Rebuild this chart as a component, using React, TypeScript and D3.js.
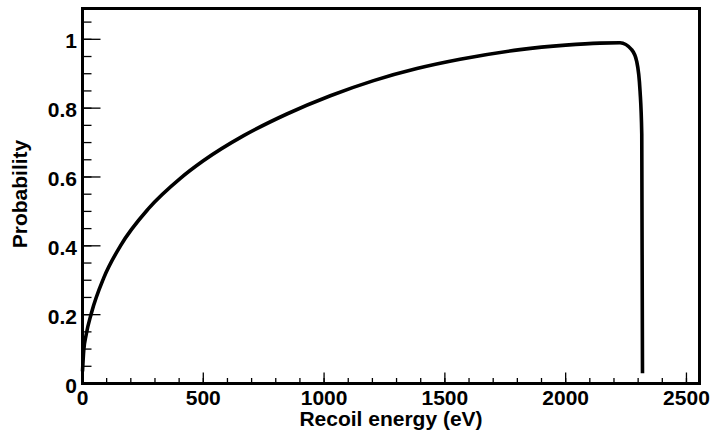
import React from "react";
import * as d3 from "d3";

const energy = [0, 5, 15, 37, 88, 157, 273, 405, 500, 667, 846, 1026, 1205, 1384, 1563, 1811, 2000, 2142, 2225, 2273, 2294, 2308, 2315, 2318];
const probability = [0.035, 0.095, 0.141, 0.205, 0.307, 0.4, 0.508, 0.596, 0.647, 0.72, 0.783, 0.836, 0.88, 0.915, 0.942, 0.97, 0.983, 0.989, 0.99, 0.97, 0.936, 0.849, 0.725, 0.03];

const xMajor = [0, 500, 1000, 1500, 2000, 2500];
const xMinor = d3.range(0, 2501, 100);
const yMajor = [0, 0.2, 0.4, 0.6, 0.8, 1];
const yMajorLabels = ["0", "0.2", "0.4", "0.6", "0.8", "1"];
const yMinor = d3.range(0, 21).map((i) => i * 0.05).concat([1.05]);

const xTitle = "Recoil energy (eV)";
const yTitle = "Probability";

const W = 713;
const H = 432;
const L = 82.5;
const R = 699.5;
const T = 8.5;
const B = 383.5;
const FONT = "'Liberation Sans', Arial, Helvetica, sans-serif";

export default function App() {
  const x = d3.scaleLinear().domain([0, 2554]).range([L, R]);
  const y = d3.scaleLinear().domain([0, 1.0895]).range([B, T]);
  const pts: [number, number][] = energy.map((e, i) => [e, probability[i]]);
  const line = d3
    .line<[number, number]>()
    .x((d) => x(d[0]))
    .y((d) => y(d[1]))
    .curve(d3.curveMonotoneX);

  return (
    <svg
      width={W}
      height={H}
      style={{ position: "absolute", left: 0, top: 0, background: "#fff" }}
    >
      <rect x={0} y={0} width={W} height={H} fill="#fff" />
      {xMinor.map((v) => (
        <line key={"xm" + v} x1={x(v)} x2={x(v)} y1={B} y2={B - 5.5} stroke="#000" strokeWidth={1.3} />
      ))}
      {xMajor.map((v) => (
        <line key={"xM" + v} x1={x(v)} x2={x(v)} y1={B} y2={B - 11} stroke="#000" strokeWidth={1.3} />
      ))}
      {yMinor.map((v) => (
        <line key={"ym" + v} x1={L} x2={L + 9} y1={y(v)} y2={y(v)} stroke="#000" strokeWidth={1.3} />
      ))}
      {yMajor.map((v) => (
        <line key={"yM" + v} x1={L} x2={L + 18} y1={y(v)} y2={y(v)} stroke="#000" strokeWidth={1.3} />
      ))}
      <path d={line(pts) || ""} fill="none" stroke="#000" strokeWidth={3.6} strokeLinejoin="round" />
      <rect x={L} y={T} width={R - L} height={B - T} fill="none" stroke="#000" strokeWidth={3} />
      {xMajor.map((v) => (
        <text
          key={"xl" + v}
          x={x(v)}
          y={404.5}
          textAnchor="middle"
          fontFamily={FONT}
          fontWeight="bold"
          fontSize={21}
          fill="#000"
        >
          {String(v)}
        </text>
      ))}
      {yMajor.map((v, i) => (
        <text
          key={"yl" + v}
          x={77}
          y={y(v) + 9}
          textAnchor="end"
          fontFamily={FONT}
          fontWeight="bold"
          fontSize={21}
          fill="#000"
        >
          {yMajorLabels[i]}
        </text>
      ))}
      <text
        x={(L + R) / 2}
        y={425.5}
        textAnchor="middle"
        fontFamily={FONT}
        fontWeight="bold"
        fontSize={21}
        fill="#000"
      >
        {xTitle}
      </text>
      <text
        transform={`translate(27,${(T + B) / 2 - 2}) rotate(-90)`}
        textAnchor="middle"
        fontFamily={FONT}
        fontWeight="bold"
        fontSize={21}
        fill="#000"
      >
        {yTitle}
      </text>
    </svg>
  );
}
